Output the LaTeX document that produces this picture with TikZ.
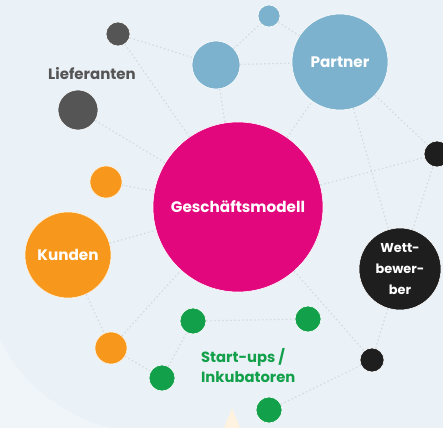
\documentclass[tikz,border=0pt]{standalone}
\usepackage{fontspec}
\setmainfont{Poppins}
\definecolor{bgblue}{HTML}{EAF1F7}
\definecolor{linkgray}{HTML}{D2D9DF}
\definecolor{gmred}{HTML}{E2077C}
\definecolor{partblue}{HTML}{7DB2CE}
\definecolor{liefgray}{HTML}{555555}
\definecolor{wettblack}{HTML}{1E1E1E}
\definecolor{kundorange}{HTML}{F7981D}
\definecolor{startgreen}{HTML}{12A04A}
\definecolor{cream}{HTML}{FFF3DF}

\begin{document}
\begin{tikzpicture}[x=0.03cm,y=-0.03cm]
\tikzset{bubble/.style={circle,inner sep=0pt,draw=white,line width=0.5pt,
  text=white,align=center,font=\bfseries\fontsize{13}{15}\selectfont},
  link/.style={draw=linkgray,line width=1pt,dash pattern=on 1.2pt off 2.2pt}}

\useasboundingbox (0,0) rectangle (443,428);
\clip (0,0) rectangle (443,428);
\fill[bgblue] (0,0) rectangle (443,428);
\fill[white,opacity=0.3] (0,340) .. controls (25,390) and (70,418) .. (110,428) -- (0,428) -- cycle;
\fill[cream] (224,428) -- (232,408) -- (240,428) -- cycle;

% centre
\node[bubble,fill=gmred,minimum size=5.1cm] (gm) at (238,207) {Geschäftsmodell};

% partner
\node[bubble,fill=partblue,minimum size=2.88cm] (partner) at (340,62) {Partner};
\node[bubble,fill=partblue,minimum size=1.44cm] (blueM) at (216,65) {};
\node[bubble,fill=partblue,minimum size=0.66cm] (blueS) at (269,16) {};

% lieferanten
\node[bubble,fill=liefgray,minimum size=0.72cm] (grayS) at (118,34) {};
\node[bubble,fill=liefgray,minimum size=1.2cm] (grayL) at (78,110) {};
\node[text=liefgray,font=\bfseries\fontsize{12.8}{15}\selectfont] (lief) at (92,74) {Lieferanten};

% kunden
\node[bubble,draw=cream,fill=kundorange,minimum size=0.96cm] (oraS) at (106,182) {};
\node[bubble,draw=cream,fill=kundorange,minimum size=2.58cm] (kunden) at (68,255) {Kunden};
\node[bubble,draw=cream,fill=kundorange,minimum size=0.96cm] (oraB) at (111,348) {};

% start-ups
\node[bubble,fill=startgreen,minimum size=0.78cm] (grnL) at (193,321) {};
\node[bubble,fill=startgreen,minimum size=0.78cm] (grnR) at (308,319) {};
\node[bubble,fill=startgreen,minimum size=0.78cm] (grnBL) at (162,378) {};
\node[bubble,fill=startgreen,minimum size=0.78cm] (grnB) at (269,410) {};
\node[anchor=west,align=left,text=startgreen,font=\bfseries\fontsize{12.6}{17}\selectfont] (start) at (197,366) {Start-ups /\\Inkubatoren};

% wettbewerber
\node[bubble,fill=wettblack,minimum size=2.46cm,font=\bfseries\fontsize{11}{18}\selectfont] (wett) at (400,269) {Wett-\\bewer-\\ber};
\node[bubble,fill=wettblack,minimum size=0.72cm] (blkB) at (372,360) {};
\node[bubble,fill=wettblack,minimum size=0.78cm] (blkT) at (437,154) {};

\foreach \a/\b in {grayS/blueM,grayS/gm,grayL/gm,oraS/gm,kunden/gm,kunden/oraB,
  oraB/gm,oraB/grnBL,grnBL/grnL,grnL/grnR,gm/blkB,blkB/grnB,blkB/wett,wett/blkT,
  partner/wett,partner/blkT,gm/blkT,gm/partner,blueM/partner,blueM/blueS,
  blueS/partner,blueM/gm}
  \draw[link] (\a) -- (\b);

\end{tikzpicture}
\end{document}
